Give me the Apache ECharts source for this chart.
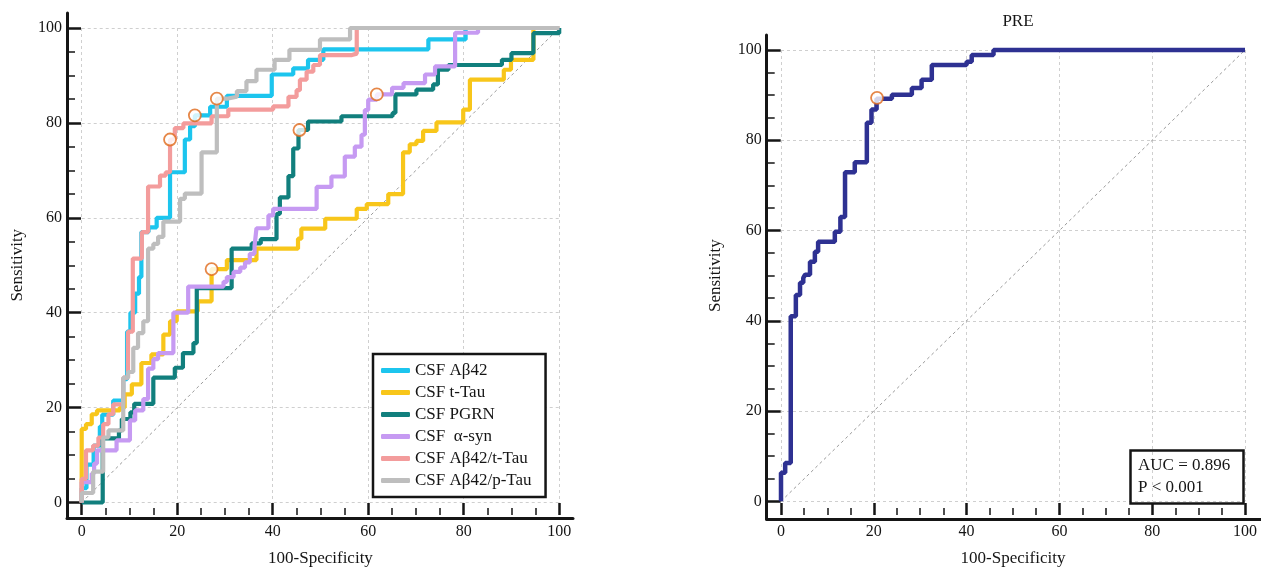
<!DOCTYPE html>
<html><head><meta charset="utf-8">
<script src="https://cdn.jsdelivr.net/npm/echarts@6/dist/echarts.min.js"></script>
<style>html,body{margin:0;padding:0;background:#fff}#c{width:1261px;height:572px}</style>
</head><body><div id="c"></div>
<script>
// ---- data (x = 100-Specificity, y = Sensitivity), ROC step points ----
const seriesNames = ['CSF Aβ42','CSF t-Tau','CSF PGRN','CSF  α-syn','CSF Aβ42/t-Tau','CSF Aβ42/p-Tau'];
const rocAb42 = [[0,0],[0,3],[1,8],[2.5,12],[3.8,16],[4.3,18.5],[6.6,21.5],[8.7,26],[9.5,36],[10.2,40],[11.2,44],[12,47.5],[12.5,57],[14,58],[15.7,60],[18.5,69.6],[21.6,76.5],[22.7,79.3],[23.7,81.6],[26.9,83.4],[30.4,85.7],[39.8,90.2],[44.3,91.5],[47.4,93.3],[50.6,95.5],[72.6,97.6],[80.4,100],[100,100]];
const rocTTau = [[0,0],[0,15.5],[0.9,16.5],[2.1,18.6],[3.2,19.4],[8,20],[9,22.8],[10.5,24.9],[12.5,29.4],[14.6,31.2],[17.1,35.4],[18.5,38.2],[19.9,40.3],[24.3,42.4],[27.2,49.2],[30.4,51.1],[36.6,53.5],[45.3,55.6],[46,57.7],[51,59.8],[57.6,61.9],[59.7,62.9],[64.2,65],[67.3,73.8],[68.7,75.5],[70.1,76.2],[71.5,78.3],[74.3,80.1],[79.9,82.8],[81.3,89.1],[88.4,91.2],[89.9,93.3],[94.6,100],[100,100]];
const rocPGRN = [[0,0],[4.4,13.5],[7.8,15.2],[8.4,17.6],[10.2,19],[11,20.8],[15,26.3],[19.5,28.4],[21.2,31.5],[23.4,33.6],[24.1,45.2],[31.4,53.5],[35.6,54.6],[37.5,55.5],[40.8,60.8],[41.5,64.3],[43.3,68.8],[44.3,74.6],[45.4,78.5],[47.4,80.3],[54.4,81.4],[65.1,82.1],[65.7,86],[70.1,87],[73.6,88.1],[74.6,91.2],[76.8,92.2],[88,93.3],[90,94.7],[94.6,98.9],[100,100]];
const rocASyn = [[0,0],[0,4.3],[2.1,6.1],[2.6,8.2],[3.2,11],[7.3,13.1],[10.1,17.3],[11.2,19.4],[12.9,21.8],[13.9,28.2],[15,30.2],[16,31.5],[19.2,40],[22.3,45.5],[29.7,46.5],[30.4,47.5],[31.8,48.6],[33.2,49.5],[34.2,50.6],[35.2,52.4],[36.2,54],[36.6,57.8],[39.1,60.5],[40.1,61.9],[49.2,66.5],[52.3,68.7],[55.1,72.9],[57.2,75],[58.6,77.5],[59.3,82.7],[60,84.9],[61.8,86],[65,87.4],[67.4,88.4],[71.9,90.2],[74,91.9],[78.2,99],[83,100],[100,100]];
const rocAbT = [[0,0],[0,5],[0.9,11],[2.4,12],[3.5,13.7],[4.5,16.5],[5.6,18.6],[6.6,20.7],[8.7,26.3],[9.7,36],[10.7,51.4],[12.6,57],[13.9,66.6],[16.4,68.9],[17.6,69.6],[18.5,76.5],[19.5,78.9],[21.3,79.9],[27.2,81.4],[30.7,82.8],[40.1,83.5],[43.3,85.5],[45,86.9],[45.7,89.1],[47.1,90.8],[48.5,92.2],[49.9,94.3],[56.6,94.6],[57.6,100],[100,100]];
const rocAbP = [[0,0],[0,2],[2.4,6.5],[4.5,13.7],[5.6,15.2],[8.7,26.3],[9.7,27.5],[10.8,32.6],[11.8,35.7],[12.9,38.2],[13.9,53.5],[15,54.5],[16,56],[17.1,59.2],[20.6,64],[21.6,65.1],[25.1,73.8],[28.3,85.1],[30.4,85.5],[32.5,86.7],[34.5,88.8],[36.6,91.2],[40.4,93.3],[43.5,95.4],[49.9,97.6],[56.2,100],[100,100]];
const cutoffsLeft = [[18.5,76.5],[23.7,81.6],[28.3,85.1],[27.2,49.2],[45.6,78.5],[61.8,86.0]];
const rocPRE = [[0,0],[0,6.3],[0.9,8.5],[2.1,41],[3.2,45.7],[4.1,48.4],[4.8,49.5],[5.2,50.2],[6.25,53.1],[7.3,55.3],[8,57.5],[11.6,59.7],[12.8,63],[13.8,72.9],[15.9,75.1],[18.5,83.9],[19.5,86.8],[20.6,89.2],[23.9,90.1],[28.2,91.6],[30.3,93.4],[32.5,96.7],[40,97.4],[41.1,98.9],[45.8,100],[100,100]];
const cutoffsRight = [[20.7,89.4]];
const diagonal = [[0,0],[100,100]];
const axisMin = 0, axisMax = 100, axisStep = 20;
const titleRight = 'PRE';
const aucText = 'AUC = 0.896\nP < 0.001';
const xName = '100-Specificity', yName = 'Sensitivity';

const colors = ['#1CC5EE','#F8C61A','#117F7D','#C69AF2','#F39C9C','#BEBEBE'];
const navy = '#2E3192';
const FONT = "'Liberation Serif','DejaVu Serif',serif";
const INK = '#151515';

function frameAxes(gi){
  return {gridIndex: gi, type:'value', min:0, max:1, axisLine:{show:true,onZero:false,lineStyle:{color:INK,width:3}},
    axisTick:{show:false}, axisLabel:{show:false}, splitLine:{show:false}};
}
function dataX(gi, off){
  return {gridIndex:gi, type:'value', min:axisMin, max:axisMax, interval:axisStep, offset:off,
    name:xName, nameLocation:'middle', nameGap:35, nameTextStyle:{fontFamily:FONT,fontSize:17,color:INK},
    axisLine:{show:false,onZero:false},
    axisTick:{show:true,inside:true,length:12,lineStyle:{color:INK,width:2.5}},
    minorTick:{show:true,splitNumber:4,length:7,lineStyle:{color:INK,width:1.5}},
    axisLabel:{fontFamily:FONT,fontSize:16,color:INK,margin:9},
    splitLine:{show:true,lineStyle:{color:'#cfcfcf',type:[3,3],width:1}}};
}
function dataY(gi, off, gap){
  return {gridIndex:gi, type:'value', min:axisMin, max:axisMax, interval:axisStep, offset:off,
    name:yName, nameLocation:'middle', nameGap:gap, nameRotate:90, nameTextStyle:{fontFamily:FONT,fontSize:17,color:INK},
    axisLine:{show:false,onZero:false},
    axisTick:{show:true,inside:true,length:14,lineStyle:{color:INK,width:2.5}},
    minorTick:{show:true,splitNumber:4,length:8,lineStyle:{color:INK,width:1.5}},
    axisLabel:{fontFamily:FONT,fontSize:16,color:INK,margin:5},
    splitLine:{show:true,lineStyle:{color:'#cfcfcf',type:[3,3],width:1}}};
}
const leftCurves = [rocAb42, rocTTau, rocPGRN, rocASyn, rocAbT, rocAbP];
const series = [];
series.push({type:'line', xAxisIndex:1, yAxisIndex:1, data:diagonal, symbol:'none', silent:true, clip:false,
  lineStyle:{color:'#9a9a9a', width:1, type:[3,3]}, z:1});
leftCurves.forEach((d,i)=>{
  series.push({name:seriesNames[i], type:'line', xAxisIndex:1, yAxisIndex:1, data:d, step:'end', symbol:'none', clip:false,
    color:colors[i], lineStyle:{color:colors[i], width:4.2}, z:2+i});
});
series.push({type:'scatter', xAxisIndex:1, yAxisIndex:1, data:cutoffsLeft, symbol:'circle', symbolSize:12, clip:false,
  itemStyle:{color:'#ffffff', borderColor:'#E0691A', borderWidth:1.8}, z:20});
series.push({type:'line', xAxisIndex:3, yAxisIndex:3, data:diagonal, symbol:'none', silent:true, clip:false,
  lineStyle:{color:'#9a9a9a', width:1, type:[3,3]}, z:1});
series.push({name:'PRE', type:'line', xAxisIndex:3, yAxisIndex:3, data:rocPRE, step:'end', symbol:'none', clip:false,
  lineStyle:{color:navy, width:4.5}, z:5});
series.push({type:'scatter', xAxisIndex:3, yAxisIndex:3, data:cutoffsRight, symbol:'circle', symbolSize:12, clip:false,
  itemStyle:{color:'#ffffff', borderColor:'#E0691A', borderWidth:1.8}, z:20});

const option = {
  animation:false,
  backgroundColor:'#fff',
  title:[
    {text:titleRight, left:1013, top:8, textAlign:'center', textStyle:{fontFamily:FONT,fontSize:17,fontWeight:'normal',color:INK}},
    {text:aucText, left:1130, top:450, padding:[5,14,5,8], borderColor:INK, borderWidth:2.5,
      textStyle:{fontFamily:FONT,fontSize:17,fontWeight:'normal',color:INK,lineHeight:22}}
  ],
  legend:{data:seriesNames, orient:'vertical', left:373, top:354, padding:[7,14,7,8], itemGap:3,
    itemWidth:29, itemHeight:5, icon:'roundRect', borderColor:INK, borderWidth:2.5, backgroundColor:'#fff',
    textStyle:{fontFamily:FONT,fontSize:17,color:INK,lineHeight:19}},
  grid:[
    {left:67, top:13, width:506, height:505},
    {left:81.7, top:28, width:477.5, height:477.5},
    {left:766.7, top:35, width:500, height:484},
    {left:781, top:50, width:464, height:455.3}
  ],
  xAxis:[frameAxes(0), dataX(1,12.5), frameAxes(2), dataX(3,13.7)],
  yAxis:[frameAxes(0), dataY(1,14.7,41), frameAxes(2), dataY(3,14.3,43)],
  series:series
};
const chart = echarts.init(document.getElementById('c'), null, {renderer:'canvas'});
chart.setOption(option);
</script></body></html>
